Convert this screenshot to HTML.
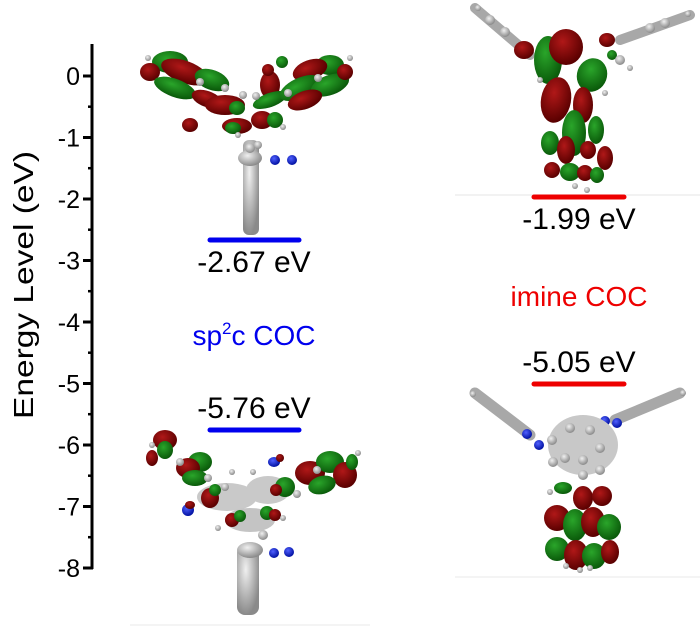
<!DOCTYPE html>
<html><head><meta charset="utf-8"><style>
body{margin:0;background:#fff}
svg{display:block}
text{font-family:"Liberation Sans",Arial,sans-serif}
</style></head><body>
<svg width="700" height="630" viewBox="0 0 700 630" xmlns="http://www.w3.org/2000/svg">
<defs>
<radialGradient id="r" cx="40%" cy="35%" r="65%"><stop offset="0" stop-color="#b01818"/><stop offset="1" stop-color="#5a0000"/></radialGradient>
<radialGradient id="g" cx="40%" cy="35%" r="65%"><stop offset="0" stop-color="#2aa52a"/><stop offset="1" stop-color="#0a5a0a"/></radialGradient>
<radialGradient id="w" cx="40%" cy="35%" r="65%"><stop offset="0" stop-color="#f0f0f0"/><stop offset="1" stop-color="#8a8a8a"/></radialGradient>
<radialGradient id="b" cx="40%" cy="35%" r="65%"><stop offset="0" stop-color="#5060ff"/><stop offset="1" stop-color="#0010a0"/></radialGradient>
</defs>
<line x1="455" y1="195" x2="700" y2="195" stroke="#e4e4e4" stroke-width="1"/>
<line x1="455" y1="577" x2="700" y2="577" stroke="#e8e8e8" stroke-width="1"/>
<line x1="130" y1="625" x2="370" y2="625" stroke="#e8e8e8" stroke-width="1"/>

<g stroke="#000" stroke-width="3" fill="none">
<line x1="92" y1="44" x2="92" y2="569"/>
<line x1="83" y1="76" x2="93" y2="76"/><line x1="83" y1="137.5" x2="93" y2="137.5"/>
<line x1="83" y1="199" x2="93" y2="199"/><line x1="83" y1="260.5" x2="93" y2="260.5"/>
<line x1="83" y1="322" x2="93" y2="322"/><line x1="83" y1="383.5" x2="93" y2="383.5"/>
<line x1="83" y1="445" x2="93" y2="445"/><line x1="83" y1="506.5" x2="93" y2="506.5"/>
<line x1="83" y1="568" x2="93" y2="568"/>
<g stroke-width="2.5">
<line x1="88" y1="106.7" x2="92" y2="106.7"/><line x1="88" y1="168.2" x2="92" y2="168.2"/>
<line x1="88" y1="229.7" x2="92" y2="229.7"/><line x1="88" y1="291.2" x2="92" y2="291.2"/>
<line x1="88" y1="352.7" x2="92" y2="352.7"/><line x1="88" y1="414.2" x2="92" y2="414.2"/>
<line x1="88" y1="475.7" x2="92" y2="475.7"/><line x1="88" y1="537.2" x2="92" y2="537.2"/>
</g></g>
<g font-size="25" text-anchor="end" fill="#000">
<text x="80" y="85">0</text><text x="80" y="146.5">-1</text><text x="80" y="208">-2</text>
<text x="80" y="269.5">-3</text><text x="80" y="331">-4</text><text x="80" y="392.5">-5</text>
<text x="80" y="454">-6</text><text x="80" y="515.5">-7</text><text x="80" y="577">-8</text>
</g>
<text transform="translate(33,285) rotate(-90)" font-size="28" text-anchor="middle" textLength="268" lengthAdjust="spacingAndGlyphs">Energy Level (eV)</text>

<g stroke-linecap="round" stroke-width="5">
<line x1="210" y1="240" x2="299" y2="240" stroke="#0000ee"/>
<line x1="210" y1="430" x2="299" y2="430" stroke="#0000ee"/>
<line x1="534" y1="197" x2="624" y2="197" stroke="#ee0000"/>
<line x1="534" y1="384" x2="624" y2="384" stroke="#ee0000"/>
</g>
<g font-size="30" text-anchor="middle">
<text x="254" y="272">-2.67 eV</text>
<text x="254" y="418">-5.76 eV</text>
<text x="579" y="229">-1.99 eV</text>
<text x="579" y="372">-5.05 eV</text>
<text x="254" y="345" fill="#0000ee" font-size="28">sp<tspan font-size="17" dy="-11">2</tspan><tspan dy="11">c COC</tspan></text>
<text x="579" y="306" fill="#ee0000" font-size="28">imine COC</text>
</g>

<g>
<rect x="243" y="140" width="16" height="95" rx="6" fill="url(#w)"/>
<ellipse cx="250" cy="158" rx="12" ry="8" fill="url(#w)"/>
<circle cx="275" cy="160" r="5" fill="url(#b)"/><circle cx="292" cy="160" r="5" fill="url(#b)"/>
<ellipse cx="170" cy="62" rx="18" ry="11" fill="url(#g)"/>
<ellipse cx="150" cy="72" rx="10" ry="9" fill="url(#r)"/>
<ellipse cx="185" cy="72" rx="25" ry="11" fill="url(#r)" transform="rotate(20 185 72)"/>
<ellipse cx="175" cy="88" rx="22" ry="9" fill="url(#g)" transform="rotate(20 175 88)"/>
<ellipse cx="212" cy="80" rx="18" ry="10" fill="url(#g)" transform="rotate(20 212 80)"/>
<ellipse cx="207" cy="99" rx="16" ry="8" fill="url(#r)" transform="rotate(20 207 99)"/>
<ellipse cx="225" cy="105" rx="20" ry="10" fill="url(#r)"/>
<ellipse cx="190" cy="125" rx="8" ry="7" fill="url(#r)"/>
<ellipse cx="237" cy="108" rx="8" ry="7" fill="url(#g)"/>
<ellipse cx="237" cy="126" rx="15" ry="8" fill="url(#r)"/>
<ellipse cx="233" cy="128" rx="8" ry="6" fill="url(#g)"/>
<ellipse cx="262" cy="120" rx="11" ry="9" fill="url(#r)"/>
<ellipse cx="275" cy="120" rx="8" ry="8" fill="url(#g)"/>
<ellipse cx="270" cy="85" rx="10" ry="14" fill="url(#r)"/>
<ellipse cx="268" cy="70" rx="6" ry="6" fill="url(#r)"/>
<ellipse cx="282" cy="62" rx="6" ry="6" fill="url(#g)"/>
<ellipse cx="270" cy="100" rx="18" ry="7" fill="url(#g)" transform="rotate(-20 270 100)"/>
<ellipse cx="330" cy="65" rx="14" ry="10" fill="url(#g)"/>
<ellipse cx="310" cy="70" rx="18" ry="10" fill="url(#r)" transform="rotate(-20 310 70)"/>
<ellipse cx="300" cy="88" rx="22" ry="10" fill="url(#g)" transform="rotate(-25 300 88)"/>
<ellipse cx="330" cy="85" rx="20" ry="10" fill="url(#g)" transform="rotate(-20 330 85)"/>
<ellipse cx="305" cy="100" rx="18" ry="9" fill="url(#r)" transform="rotate(-20 305 100)"/>
<ellipse cx="345" cy="72" rx="8" ry="8" fill="url(#r)"/>
<g fill="url(#w)">
<circle cx="148" cy="58" r="3"/><circle cx="200" cy="82" r="4"/><circle cx="225" cy="88" r="4"/>
<circle cx="243" cy="95" r="4"/><circle cx="256" cy="96" r="4"/><circle cx="238" cy="135" r="3"/>
<circle cx="350" cy="58" r="3"/><circle cx="318" cy="78" r="4"/><circle cx="288" cy="93" r="4"/>
<circle cx="283" cy="127" r="3"/><circle cx="250" cy="148" r="5"/><circle cx="258" cy="145" r="4"/>
</g></g>

<g>
<path d="M475 8 L530 55" stroke="#a8a8a8" stroke-width="10" stroke-linecap="round"/>
<path d="M620 40 L690 15" stroke="#a8a8a8" stroke-width="10" stroke-linecap="round"/>
<g fill="url(#w)"><circle cx="478" cy="8" r="3"/><circle cx="688" cy="14" r="3"/><circle cx="490" cy="20" r="5"/><circle cx="505" cy="32" r="5"/><circle cx="650" cy="28" r="5"/><circle cx="665" cy="23" r="5"/></g>
<ellipse cx="524" cy="50" rx="10" ry="9" fill="url(#r)"/>
<ellipse cx="548" cy="60" rx="14" ry="24" fill="url(#g)"/>
<ellipse cx="566" cy="47" rx="17" ry="18" fill="url(#r)"/>
<ellipse cx="592" cy="75" rx="15" ry="17" fill="url(#g)" transform="rotate(20 592 75)"/>
<ellipse cx="607" cy="40" rx="8" ry="7" fill="url(#r)"/>
<ellipse cx="612" cy="55" rx="5" ry="5" fill="url(#g)"/>
<ellipse cx="556" cy="100" rx="15" ry="23" fill="url(#r)" transform="rotate(10 556 100)"/>
<ellipse cx="583" cy="105" rx="10" ry="18" fill="url(#r)"/>
<ellipse cx="574" cy="133" rx="12" ry="23" fill="url(#g)"/>
<ellipse cx="596" cy="130" rx="8" ry="14" fill="url(#g)"/>
<ellipse cx="550" cy="143" rx="9" ry="12" fill="url(#g)"/>
<ellipse cx="566" cy="150" rx="9" ry="14" fill="url(#r)"/>
<ellipse cx="588" cy="150" rx="8" ry="9" fill="url(#r)"/>
<ellipse cx="605" cy="158" rx="8" ry="12" fill="url(#r)"/>
<ellipse cx="552" cy="170" rx="8" ry="8" fill="url(#r)"/>
<ellipse cx="570" cy="172" rx="10" ry="9" fill="url(#g)"/>
<ellipse cx="585" cy="173" rx="8" ry="8" fill="url(#r)"/>
<ellipse cx="597" cy="175" rx="7" ry="8" fill="url(#g)"/>
<g fill="url(#w)"><circle cx="540" cy="80" r="3"/><circle cx="605" cy="93" r="3"/><circle cx="630" cy="68" r="3"/><circle cx="575" cy="186" r="3"/><circle cx="587" cy="190" r="3"/><circle cx="620" cy="60" r="5"/></g>
</g>

<g>
<rect x="237" y="545" width="22" height="70" rx="8" fill="url(#w)"/>
<ellipse cx="250" cy="550" rx="13" ry="8" fill="url(#w)"/>
<circle cx="274" cy="553" r="5" fill="url(#b)"/><circle cx="289" cy="552" r="5" fill="url(#b)"/>
<ellipse cx="227" cy="497" rx="30" ry="14" fill="#c9c9c9"/>
<ellipse cx="268" cy="490" rx="22" ry="14" fill="#c9c9c9"/>
<ellipse cx="250" cy="520" rx="25" ry="12" fill="#c4c4c4"/>
<ellipse cx="165" cy="440" rx="12" ry="10" fill="url(#r)"/>
<ellipse cx="165" cy="450" rx="8" ry="9" fill="url(#g)"/>
<ellipse cx="152" cy="458" rx="6" ry="8" fill="url(#r)"/>
<ellipse cx="200" cy="462" rx="12" ry="10" fill="url(#g)"/>
<ellipse cx="188" cy="468" rx="12" ry="10" fill="url(#r)"/>
<ellipse cx="195" cy="478" rx="13" ry="8" fill="url(#g)"/>
<ellipse cx="210" cy="498" rx="9" ry="10" fill="url(#r)"/>
<ellipse cx="215" cy="490" rx="6" ry="6" fill="url(#g)"/>
<ellipse cx="188" cy="510" rx="6" ry="6" fill="url(#b)"/>
<ellipse cx="190" cy="505" rx="5" ry="4" fill="url(#r)"/>
<ellipse cx="232" cy="520" rx="7" ry="7" fill="url(#r)"/>
<ellipse cx="240" cy="516" rx="6" ry="6" fill="url(#g)"/>
<ellipse cx="267" cy="513" rx="7" ry="7" fill="url(#g)"/>
<ellipse cx="275" cy="515" rx="6" ry="6" fill="url(#r)"/>
<ellipse cx="274" cy="462" rx="6" ry="5" fill="url(#b)"/>
<ellipse cx="280" cy="458" rx="4" ry="4" fill="url(#r)"/>
<ellipse cx="285" cy="487" rx="10" ry="10" fill="url(#g)"/>
<ellipse cx="276" cy="490" rx="6" ry="6" fill="url(#r)"/>
<ellipse cx="310" cy="473" rx="15" ry="12" fill="url(#r)"/>
<ellipse cx="330" cy="462" rx="14" ry="11" fill="url(#g)"/>
<ellipse cx="345" cy="475" rx="12" ry="13" fill="url(#r)"/>
<ellipse cx="322" cy="485" rx="14" ry="9" fill="url(#g)" transform="rotate(-15 322 485)"/>
<ellipse cx="352" cy="462" rx="6" ry="8" fill="url(#g)"/>
<g fill="url(#w)"><circle cx="152" cy="445" r="3"/><circle cx="180" cy="462" r="4"/><circle cx="208" cy="478" r="4"/><circle cx="225" cy="487" r="4"/><circle cx="232" cy="472" r="3"/><circle cx="253" cy="472" r="3"/><circle cx="218" cy="528" r="3"/><circle cx="283" cy="518" r="3"/><circle cx="297" cy="494" r="4"/><circle cx="317" cy="470" r="4"/><circle cx="358" cy="453" r="3"/><circle cx="263" cy="535" r="5"/></g>
</g>

<g>
<path d="M475 393 L530 435" stroke="#a8a8a8" stroke-width="11" stroke-linecap="round"/>
<path d="M615 420 L680 393" stroke="#a8a8a8" stroke-width="11" stroke-linecap="round"/>
<g fill="url(#w)"><circle cx="473" cy="394" r="3"/><circle cx="683" cy="393" r="3"/></g>
<circle cx="527" cy="434" r="5" fill="url(#b)"/><circle cx="539" cy="445" r="5" fill="url(#b)"/>
<circle cx="605" cy="421" r="5" fill="url(#b)"/><circle cx="617" cy="423" r="5" fill="url(#b)"/>
<ellipse cx="583" cy="445" rx="35" ry="30" fill="#c8c8c8"/>
<g fill="url(#w)"><circle cx="552" cy="440" r="5"/><circle cx="570" cy="428" r="5"/><circle cx="590" cy="430" r="5"/><circle cx="600" cy="448" r="5"/><circle cx="583" cy="460" r="5"/><circle cx="565" cy="458" r="5"/><circle cx="553" cy="462" r="5"/><circle cx="600" cy="470" r="5"/><circle cx="583" cy="475" r="5"/></g>
<ellipse cx="563" cy="488" rx="9" ry="6" fill="url(#g)"/>
<ellipse cx="583" cy="498" rx="10" ry="12" fill="url(#r)"/>
<ellipse cx="602" cy="496" rx="10" ry="10" fill="url(#r)"/>
<ellipse cx="557" cy="518" rx="13" ry="13" fill="url(#r)"/>
<ellipse cx="575" cy="525" rx="12" ry="16" fill="url(#g)"/>
<ellipse cx="593" cy="522" rx="12" ry="15" fill="url(#r)"/>
<ellipse cx="609" cy="527" rx="12" ry="13" fill="url(#g)"/>
<ellipse cx="557" cy="549" rx="12" ry="12" fill="url(#g)"/>
<ellipse cx="576" cy="555" rx="12" ry="15" fill="url(#r)"/>
<ellipse cx="594" cy="556" rx="12" ry="13" fill="url(#g)"/>
<ellipse cx="610" cy="552" rx="9" ry="12" fill="url(#r)"/>
<g fill="url(#w)"><circle cx="566" cy="566" r="3"/><circle cx="580" cy="570" r="3"/><circle cx="590" cy="568" r="3"/><circle cx="550" cy="492" r="3"/></g>
</g>
</svg>
</body></html>
